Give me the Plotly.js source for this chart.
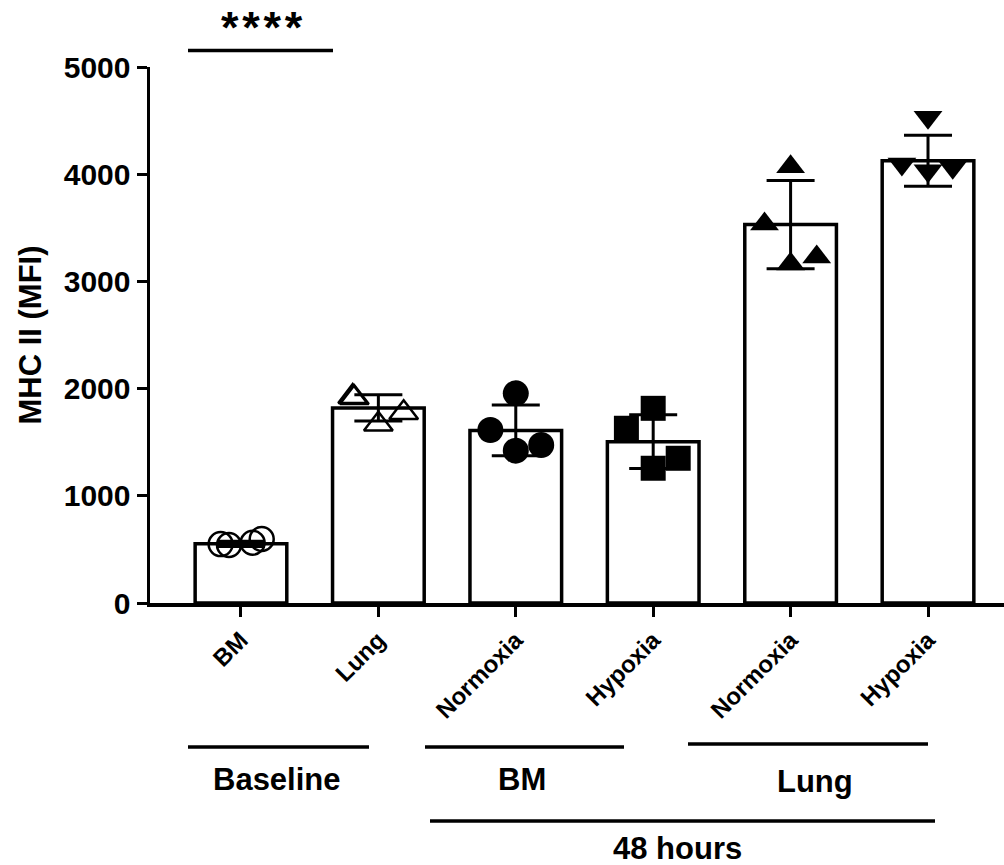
<!DOCTYPE html>
<html>
<head>
<meta charset="utf-8">
<script src="https://cdn.plot.ly/plotly-3.0.1.min.js"></script>
<style>
html,body{margin:0;padding:0;background:#fff;}
#chart{width:1004px;height:865px;}
</style>
</head>
<body>
<div id="chart"></div>
<script>
// ---- data ----
var categories = ["BM", "Lung", "Normoxia", "Hypoxia", "Normoxia", "Hypoxia"];
var groupLabels = ["Baseline", "BM", "Lung", "48 hours"];
var yTitle = "MHC II (MFI)";
var significance = "*\u200A*\u200A*\u200A*";

var means = [552, 1820, 1610, 1505, 3530, 4125];
var sds = [25, 122, 236, 250, 412, 238];

var ptsBaselineBM = [550, 541, 562, 597];
var ptsBaselineLung = [1925, 1668, 1775, 1915];
var ptsBMNormoxia = [1956, 1614, 1421, 1474];
var ptsBMHypoxia = [1816, 1630, 1257, 1350];
var ptsLungNormoxia = [4070, 3535, 3162, 3228];
var ptsLungHypoxia = [4531, 4095, 4033, 4064];

// ---- layout helpers (positions / styles) ----
var positions = [0, 1, 2, 3, 4, 5];
var jitter = [
  [-0.148, -0.087, 0.085, 0.151],
  [-0.187, 0.0, 0.184, -0.175],
  [0.0, -0.185, 0.0, 0.185],
  [0.0, -0.195, 0.0, 0.182],
  [0.0, -0.19, 0.0, 0.19],
  [0.0, -0.19, 0.0, 0.18]
];
var pointSets = [ptsBaselineBM, ptsBaselineLung, ptsBMNormoxia, ptsBMHypoxia, ptsLungNormoxia, ptsLungHypoxia];
var symbols = ["circle-open", "triangle-up-open", "circle", "square", "triangle-up", "triangle-down"];
var sizes = [24, 25, 26, 25, 25, 25];

var FONT = "Liberation Sans, Arial, Helvetica, sans-serif";

var traces = [];
traces.push({
  type: "bar",
  x: positions,
  y: means,
  width: 0.667,
  marker: {color: "#ffffff", line: {color: "#000000", width: 3.5}},
  error_y: {type: "data", array: sds, visible: true, color: "#000000", thickness: 3, width: 24},
  hoverinfo: "skip",
  showlegend: false
});

pointSets.forEach(function (vals, i) {
  var open = symbols[i].indexOf("open") >= 0;
  traces.push({
    type: "scatter",
    mode: "markers",
    x: vals.map(function (v, j) { return positions[i] + jitter[i][j]; }),
    y: vals,
    marker: {
      symbol: symbols[i],
      size: sizes[i],
      color: "#000000",
      line: {color: "#000000", width: open ? 2.5 : 0}
    },
    cliponaxis: false,
    showlegend: false
  });
});

function xp(px) { return (px - 150) / 854; }
function yp(py) { return (603 - py) / 536; }

var lineStyle = {color: "#000000", width: 3.5};
var shapes = [
  {type: "line", xref: "paper", yref: "paper", x0: xp(188), x1: xp(333), y0: yp(50.5), y1: yp(50.5), line: lineStyle},
  {type: "line", xref: "paper", yref: "paper", x0: xp(188), x1: xp(369), y0: yp(747), y1: yp(747), line: lineStyle},
  {type: "line", xref: "paper", yref: "paper", x0: xp(425), x1: xp(624), y0: yp(747), y1: yp(747), line: lineStyle},
  {type: "line", xref: "paper", yref: "paper", x0: xp(688), x1: xp(928), y0: yp(744), y1: yp(744), line: lineStyle},
  {type: "line", xref: "paper", yref: "paper", x0: xp(430), x1: xp(935), y0: yp(821), y1: yp(821), line: lineStyle}
];

var annFont = {family: FONT, size: 31, color: "#000000", weight: "bold"};
var annotations = [
  {xref: "paper", yref: "paper", x: xp(262), y: yp(27), text: significance, showarrow: false, xanchor: "center", yanchor: "middle", font: {family: FONT, size: 45, color: "#000000", weight: "bold"}},
  {xref: "paper", yref: "paper", x: xp(277), y: yp(779), text: groupLabels[0], showarrow: false, xanchor: "center", yanchor: "middle", font: annFont},
  {xref: "paper", yref: "paper", x: xp(522), y: yp(779), text: groupLabels[1], showarrow: false, xanchor: "center", yanchor: "middle", font: annFont},
  {xref: "paper", yref: "paper", x: xp(815), y: yp(781), text: groupLabels[2], showarrow: false, xanchor: "center", yanchor: "middle", font: annFont},
  {xref: "paper", yref: "paper", x: xp(677), y: yp(848), text: groupLabels[3], showarrow: false, xanchor: "center", yanchor: "middle", font: annFont}
];

var layout = {
  width: 1004,
  height: 865,
  margin: {l: 150, r: 0, t: 67, b: 262},
  paper_bgcolor: "#ffffff",
  plot_bgcolor: "#ffffff",
  showlegend: false,
  xaxis: {
    range: [-0.662, 5.553],
    tickmode: "array",
    tickvals: positions,
    ticktext: categories,
    tickangle: -45,
    ticks: "outside",
    ticklen: 10,
    tickwidth: 3,
    tickcolor: "#000000",
    showline: true,
    linecolor: "#000000",
    linewidth: 3.5,
    showgrid: false,
    zeroline: false,
    tickfont: {family: FONT, size: 24, color: "#000000", weight: "bold"},
    fixedrange: true
  },
  yaxis: {
    range: [0, 5000],
    dtick: 1000,
    tick0: 0,
    tickformat: "d",
    ticks: "outside",
    ticklen: 10,
    tickwidth: 3,
    tickcolor: "#000000",
    showline: true,
    linecolor: "#000000",
    linewidth: 3.5,
    showgrid: false,
    zeroline: false,
    tickfont: {family: FONT, size: 30, color: "#000000", weight: "bold"},
    title: {text: yTitle, font: {family: FONT, size: 31, color: "#000000", weight: "bold"}, standoff: 14},
    fixedrange: true
  },
  shapes: shapes,
  annotations: annotations,
  bargap: 0.3
};

Plotly.newPlot("chart", traces, layout, {staticPlot: true, displayModeBar: false});
</script>
</body>
</html>
